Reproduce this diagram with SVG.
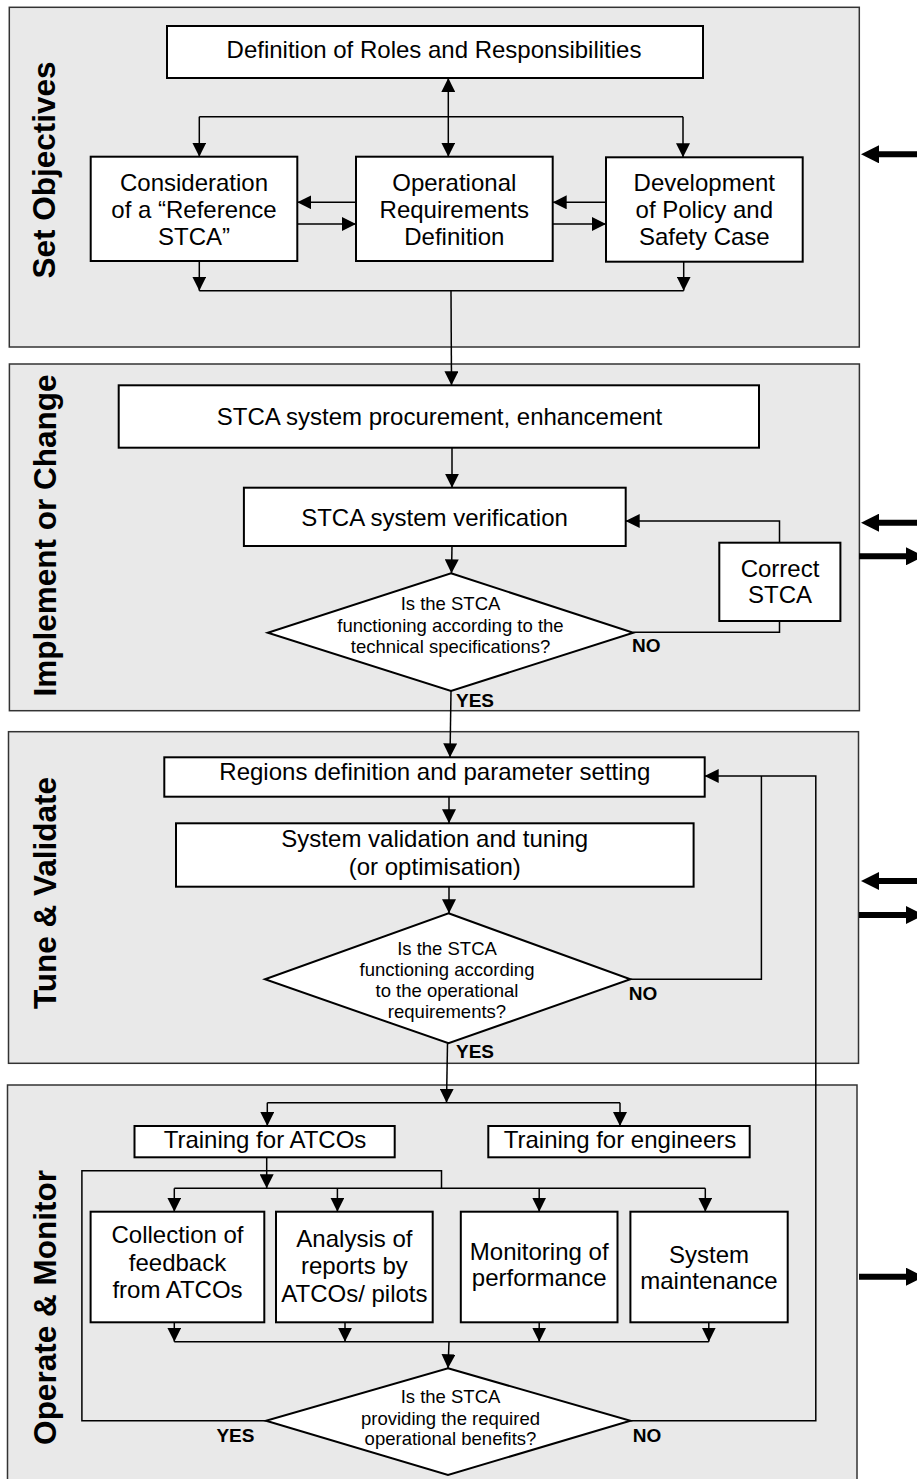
<svg xmlns="http://www.w3.org/2000/svg" width="917" height="1479" viewBox="0 0 917 1479">
<defs>
<marker id="ah" markerUnits="userSpaceOnUse" markerWidth="14" markerHeight="14" viewBox="0 0 14 14" refX="14" refY="7" orient="auto-start-reverse"><path d="M0,0 L14,7 L0,14 z" fill="#000"/></marker>
<marker id="big" markerUnits="userSpaceOnUse" markerWidth="18" markerHeight="18" viewBox="0 0 18 18" refX="0" refY="9" orient="auto"><path d="M0,0 L18,9 L0,18 z" fill="#000"/></marker>
</defs>
<style>
.sec{fill:#e9e9e9;stroke:#333;stroke-width:1.5}
.box{fill:#fff;stroke:#000;stroke-width:2}
.t{font-family:"Liberation Sans",Arial,sans-serif;font-size:24px;text-anchor:middle;fill:#000}
.d{font-family:"Liberation Sans",Arial,sans-serif;font-size:18.5px;text-anchor:middle;fill:#000}
.lb{font-family:"Liberation Sans",Arial,sans-serif;font-size:19px;font-weight:bold;fill:#000}
.st{font-family:"Liberation Sans",Arial,sans-serif;font-size:31.5px;font-weight:bold;text-anchor:middle;fill:#000}
.c{fill:none;stroke:#000;stroke-width:1.5}
.a{marker-end:url(#ah)}
.thick{fill:none;stroke:#000;stroke-width:6;marker-end:url(#big)}
</style>

<g id="sections">
<g id="sec-set-objectives"><rect class="sec" x="9.3" y="7.3" width="850" height="339.7"/><text class="st" transform="translate(55,170) rotate(-90)">Set Objectives</text></g>
<g id="sec-implement"><rect class="sec" x="9.4" y="364" width="850" height="346.7"/><text class="st" transform="translate(56,535.5) rotate(-90)">Implement or Change</text></g>
<g id="sec-tune"><rect class="sec" x="8.5" y="731.7" width="850" height="331.6"/><text class="st" transform="translate(56,893) rotate(-90)">Tune &amp; Validate</text></g>
<g id="sec-operate"><rect class="sec" x="7.5" y="1085" width="849.5" height="400"/><text class="st" transform="translate(56,1307.5) rotate(-90)">Operate &amp; Monitor</text></g>
</g>

<g id="connectors">
<!-- section 1 -->
<line class="c" x1="448.3" y1="78" x2="448.3" y2="156.7" marker-start="url(#ah)" marker-end="url(#ah)"/>
<line class="c" x1="199.3" y1="116.7" x2="683" y2="116.7"/>
<line class="c a" x1="199.3" y1="116.7" x2="199.3" y2="156.7"/>
<line class="c a" x1="683" y1="116.7" x2="683" y2="157.3"/>
<line class="c a" x1="356" y1="202.3" x2="297.3" y2="202.3"/>
<line class="c a" x1="297.3" y1="224" x2="356" y2="224"/>
<line class="c a" x1="606" y1="202.3" x2="552.7" y2="202.3"/>
<line class="c a" x1="552.7" y1="224" x2="606" y2="224"/>
<line class="c a" x1="199.3" y1="261" x2="199.3" y2="290.7"/>
<line class="c a" x1="683.7" y1="261.7" x2="683.7" y2="290.7"/>
<line class="c" x1="199.3" y1="290.7" x2="683.7" y2="290.7"/>
<line class="c a" x1="451" y1="290.7" x2="451.5" y2="385.3"/>
<!-- section 2 -->
<line class="c a" x1="452" y1="447.7" x2="452" y2="487.7"/>
<path class="c a" d="M779.5,542.7 V521 H625.7"/>
<line class="c a" x1="452" y1="546" x2="451.5" y2="573.3"/>
<path class="c" d="M633.3,632.2 H779.5 V621"/>
<line class="c a" x1="451" y1="691" x2="450" y2="757.3"/>
<!-- section 3 -->
<line class="c a" x1="449" y1="796.7" x2="449" y2="823.3"/>
<line class="c a" x1="449" y1="886.7" x2="449" y2="913.3"/>
<path class="c" d="M630.4,979.3 H761.4 V776"/>
<path class="c a" d="M630.4,1420.7 H815.8 V776 H704.7"/>
<line class="c a" x1="447.5" y1="1043.3" x2="446.5" y2="1102.7"/>
<!-- section 4 -->
<line class="c" x1="267.3" y1="1102.7" x2="620" y2="1102.7"/>
<line class="c a" x1="267.3" y1="1102.7" x2="267.3" y2="1126"/>
<line class="c a" x1="620" y1="1102.7" x2="620" y2="1126"/>
<line class="c a" x1="266.7" y1="1157.3" x2="266.7" y2="1188.3"/>
<path class="c" d="M266,1420.7 H81.9 V1170.7 H441.5 V1188.3"/>
<line class="c" x1="174.3" y1="1188.3" x2="705.3" y2="1188.3"/>
<line class="c a" x1="174.3" y1="1188.3" x2="174.3" y2="1211.7"/>
<line class="c a" x1="337.4" y1="1188.3" x2="337.4" y2="1211.7"/>
<line class="c a" x1="539.2" y1="1188.3" x2="539.2" y2="1211.7"/>
<line class="c a" x1="705.3" y1="1188.3" x2="705.3" y2="1211.7"/>
<line class="c a" x1="174.3" y1="1322.3" x2="174.3" y2="1341.7"/>
<line class="c a" x1="345" y1="1322.3" x2="345" y2="1341.7"/>
<line class="c a" x1="539.2" y1="1322.3" x2="539.2" y2="1341.7"/>
<line class="c a" x1="708.8" y1="1322.3" x2="708.8" y2="1341.7"/>
<line class="c" x1="174.3" y1="1341.7" x2="708.8" y2="1341.7"/>
<line class="c a" x1="449" y1="1341.7" x2="448" y2="1368.3"/>
<!-- side arrows -->
<line class="thick" x1="930" y1="154.3" x2="879" y2="154.3"/>
<line class="thick" x1="930" y1="522.7" x2="879" y2="522.7"/>
<line class="thick" x1="859" y1="556.3" x2="906" y2="556.3"/>
<line class="thick" x1="930" y1="881" x2="879" y2="881"/>
<line class="thick" x1="859" y1="915" x2="906" y2="915"/>
<line class="thick" x1="859" y1="1276.7" x2="906" y2="1276.7"/>
</g>

<g id="n-roles"><rect class="box" x="167" y="26" width="536" height="52"/><text class="t" x="434" y="58">Definition of Roles and Responsibilities</text></g>
<g id="n-reference"><rect class="box" x="90.7" y="156.7" width="206.6" height="104.3"/><text class="t" x="194" y="190.5">Consideration</text><text class="t" x="194" y="217.5">of a “Reference</text><text class="t" x="194" y="244.5">STCA”</text></g>
<g id="n-opreq"><rect class="box" x="356" y="156.7" width="196.7" height="104.3"/><text class="t" x="454.3" y="190.5">Operational</text><text class="t" x="454.3" y="217.5">Requirements</text><text class="t" x="454.3" y="244.5">Definition</text></g>
<g id="n-policy"><rect class="box" x="606" y="157.3" width="196.7" height="104.4"/><text class="t" x="704.3" y="190.5">Development</text><text class="t" x="704.3" y="217.5">of Policy and</text><text class="t" x="704.3" y="244.5">Safety Case</text></g>

<g id="n-procurement"><rect class="box" x="118.7" y="385.3" width="640.3" height="62.4"/><text class="t" x="439.5" y="425">STCA system procurement, enhancement</text></g>
<g id="n-verification"><rect class="box" x="243.9" y="487.7" width="381.8" height="58.3"/><text class="t" x="434.5" y="526">STCA system verification</text></g>
<g id="n-correct"><rect class="box" x="719.3" y="542.7" width="121.1" height="78.3"/><text class="t" x="780" y="576.7">Correct</text><text class="t" x="780" y="602.7">STCA</text></g>
<g id="n-dec-tech"><polygon class="box" points="451,573.3 633.3,632.7 451,691 267.8,632.7"/><text class="d" x="450.5" y="610">Is the STCA</text><text class="d" x="450.5" y="631.7">functioning according to the</text><text class="d" x="450.5" y="653.3">technical specifications?</text><text class="lb" x="632" y="651.7">NO</text><text class="lb" x="456" y="706.7">YES</text></g>

<g id="n-regions"><rect class="box" x="164.3" y="757.3" width="540.4" height="39.4"/><text class="t" x="434.8" y="780">Regions definition and parameter setting</text></g>
<g id="n-validation"><rect class="box" x="176" y="823.3" width="517.6" height="63.4"/><text class="t" x="434.8" y="846.7">System validation and tuning</text><text class="t" x="434.8" y="875">(or optimisation)</text></g>
<g id="n-dec-op"><polygon class="box" points="448.5,913.3 630.4,979.3 448.5,1043.3 265,979.3"/><text class="d" x="447" y="955">Is the STCA</text><text class="d" x="447" y="976">functioning according</text><text class="d" x="447" y="996.7">to the operational</text><text class="d" x="447" y="1017.7">requirements?</text><text class="lb" x="628.7" y="1000">NO</text><text class="lb" x="456" y="1058.3">YES</text></g>

<g id="n-train-atco"><rect class="box" x="134.5" y="1126" width="260.2" height="31.3"/><text class="t" x="265" y="1148">Training for ATCOs</text></g>
<g id="n-train-eng"><rect class="box" x="488.3" y="1126" width="261.4" height="31.3"/><text class="t" x="620" y="1148">Training for engineers</text></g>
<g id="n-feedback"><rect class="box" x="90.6" y="1211.7" width="173.7" height="110.6"/><text class="t" x="177.5" y="1243.3">Collection of</text><text class="t" x="177.5" y="1271">feedback</text><text class="t" x="177.5" y="1298.3">from ATCOs</text></g>
<g id="n-analysis"><rect class="box" x="276" y="1211.7" width="156.7" height="110.6"/><text class="t" x="354.4" y="1246.7">Analysis of</text><text class="t" x="354.4" y="1274.3">reports by</text><text class="t" x="354.4" y="1301.7">ATCOs/ pilots</text></g>
<g id="n-monitoring"><rect class="box" x="460.8" y="1211.7" width="156.7" height="110.6"/><text class="t" x="539.2" y="1260">Monitoring of</text><text class="t" x="539.2" y="1286">performance</text></g>
<g id="n-maintenance"><rect class="box" x="630.4" y="1211.7" width="157.3" height="110.6"/><text class="t" x="709" y="1262.7">System</text><text class="t" x="709" y="1289.3">maintenance</text></g>
<g id="n-dec-benefit"><polygon class="box" points="448,1368.3 630.4,1420.7 448,1475 266,1420.7"/><text class="d" x="450.5" y="1403.3">Is the STCA</text><text class="d" x="450.5" y="1425">providing the required</text><text class="d" x="450.5" y="1445">operational benefits?</text><text class="lb" x="216.4" y="1441.7">YES</text><text class="lb" x="632.7" y="1441.7">NO</text></g>
</svg>
